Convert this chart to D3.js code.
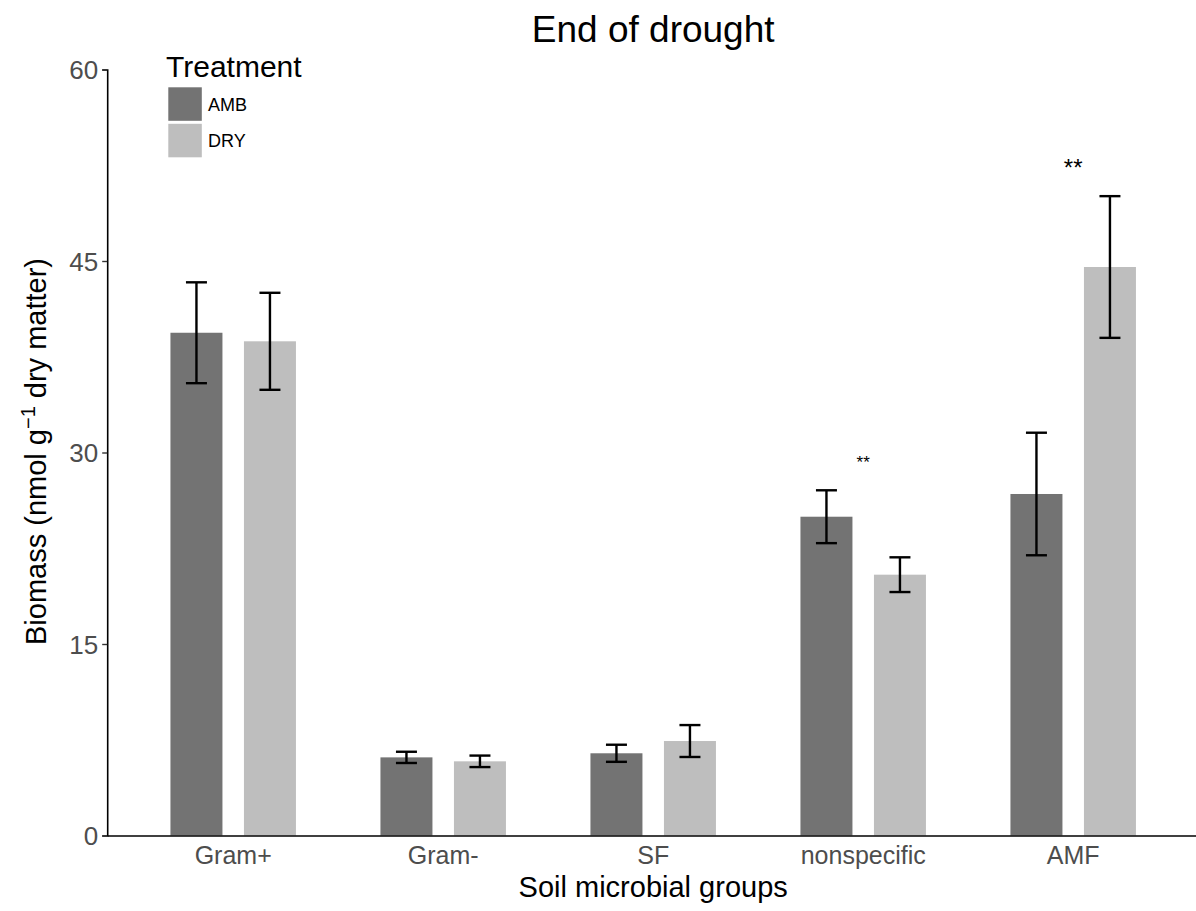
<!DOCTYPE html>
<html>
<head>
<meta charset="utf-8">
<script src="https://cdn.jsdelivr.net/npm/d3@7"></script>
<style>
html,body{margin:0;padding:0;background:#fff;}
text{font-family:"Liberation Sans",Arial,sans-serif;}
</style>
</head>
<body>
<svg id="chart" width="1196" height="911"></svg>
<script>
const categories = ["Gram+", "Gram-", "SF", "nonspecific", "AMF"];
const treatments = ["AMB", "DRY"];
const ambMean = [39.38, 6.12, 6.44, 24.97, 26.75];
const ambSE   = [3.95, 0.44, 0.67, 2.07, 4.8];
const dryMean = [38.71, 5.81, 7.40, 20.43, 44.53];
const drySE   = [3.8, 0.45, 1.25, 1.36, 5.55];
const yTicks = [0, 15, 30, 45, 60];
const sigLabels = [
  {cat: "nonspecific", text: "**", value: 29.2, size: 17},
  {cat: "AMF", text: "**", value: 52.3, size: 24}
];
const colors = {AMB: "#737373", DRY: "#bebebe"};

const svg = d3.select("#chart");
const L = 107.2, R = 1199.2, T = 69.5, B = 835.5;

const x = d3.scaleBand().domain(categories).range([L, R]).paddingInner(0).paddingOuter(0.1);
const dodge = x.bandwidth() * 0.7;
const xs = d3.scaleBand().domain(treatments).range([0, dodge]).paddingInner(0.2925).paddingOuter(0.14625);
const y = d3.scaleLinear().domain([0, 60]).range([B, T]);

const data = [];
categories.forEach((c, i) => {
  data.push({cat: c, tr: "AMB", mean: ambMean[i], se: ambSE[i]});
  data.push({cat: c, tr: "DRY", mean: dryMean[i], se: drySE[i]});
});
const bx = d => x(d.cat) + (x.bandwidth() - dodge) / 2 + xs(d.tr);

// bars
svg.append("g").selectAll("rect").data(data).join("rect")
  .attr("x", bx)
  .attr("width", xs.bandwidth())
  .attr("y", d => y(d.mean))
  .attr("height", d => y(0) - y(d.mean))
  .attr("fill", d => colors[d.tr]);

// error bars
const capW = x.bandwidth() * 0.1;
const eg = svg.append("g").attr("stroke", "#000").attr("stroke-width", 2.4).attr("fill", "none");
data.forEach(d => {
  const cx = bx(d) + xs.bandwidth() / 2;
  const y1 = y(d.mean + d.se), y2 = y(d.mean - d.se);
  eg.append("line").attr("x1", cx).attr("x2", cx).attr("y1", y1).attr("y2", y2);
  eg.append("line").attr("x1", cx - capW / 2).attr("x2", cx + capW / 2).attr("y1", y1).attr("y2", y1);
  eg.append("line").attr("x1", cx - capW / 2).attr("x2", cx + capW / 2).attr("y1", y2).attr("y2", y2);
});

// significance
svg.append("g").selectAll("text").data(sigLabels).join("text")
  .attr("x", d => x(d.cat) + x.bandwidth() / 2)
  .attr("y", d => y(d.value))
  .attr("text-anchor", "middle")
  .attr("dominant-baseline", "central")
  .attr("font-size", d => d.size)
  .attr("fill", "#000")
  .text(d => d.text);

// y axis
const yAxis = svg.append("g").attr("transform", `translate(${L},0)`)
  .call(d3.axisLeft(y).tickValues(yTicks).tickSize(5).tickPadding(4).tickFormat(d3.format("d")));
yAxis.select(".domain").attr("stroke", "#000").attr("stroke-width", 1.6);
yAxis.selectAll(".tick line").attr("stroke", "#333").attr("stroke-width", 1.4);
yAxis.selectAll(".tick text").attr("font-size", 26).attr("fill", "#4d4d4d")
  .attr("font-family", "Liberation Sans, Arial, sans-serif").attr("dy", "0.35em");

// x axis
const xAxis = svg.append("g").attr("transform", `translate(0,${B})`)
  .call(d3.axisBottom(x).tickSize(0).tickPadding(11));
xAxis.select(".domain").attr("stroke", "#000").attr("stroke-width", 1.6);
xAxis.selectAll(".tick text").attr("font-size", 25).attr("fill", "#4d4d4d")
  .attr("font-family", "Liberation Sans, Arial, sans-serif");

// axis titles
svg.append("text").attr("x", (L + R) / 2).attr("y", 897)
  .attr("text-anchor", "middle").attr("font-size", 29).attr("fill", "#000")
  .text("Soil microbial groups");

const yt = svg.append("text")
  .attr("transform", `translate(46,${(T + B) / 2 - 1}) rotate(-90)`)
  .attr("text-anchor", "middle").attr("font-size", 29).attr("fill", "#000");
yt.append("tspan").text("Biomass (nmol g");
yt.append("tspan").attr("font-size", 20).attr("dy", -11).text("\u22121");
yt.append("tspan").attr("dy", 11).text(" dry matter)");

// title
svg.append("text").attr("x", (L + R) / 2).attr("y", 42)
  .attr("text-anchor", "middle").attr("font-size", 37).attr("fill", "#000")
  .text("End of drought");

// legend
const lg = svg.append("g");
lg.append("text").attr("x", 166).attr("y", 77).attr("font-size", 30).attr("fill", "#000").text("Treatment");
treatments.forEach((t, i) => {
  lg.append("rect").attr("x", 168.3).attr("y", 87.3 + i * 36.5).attr("width", 33.5).attr("height", 33.5).attr("fill", colors[t]);
  lg.append("text").attr("x", 208).attr("y", 104.5 + i * 36.5).attr("dominant-baseline", "central")
    .attr("font-size", 18).attr("fill", "#000").text(t);
});
</script>
</body>
</html>
